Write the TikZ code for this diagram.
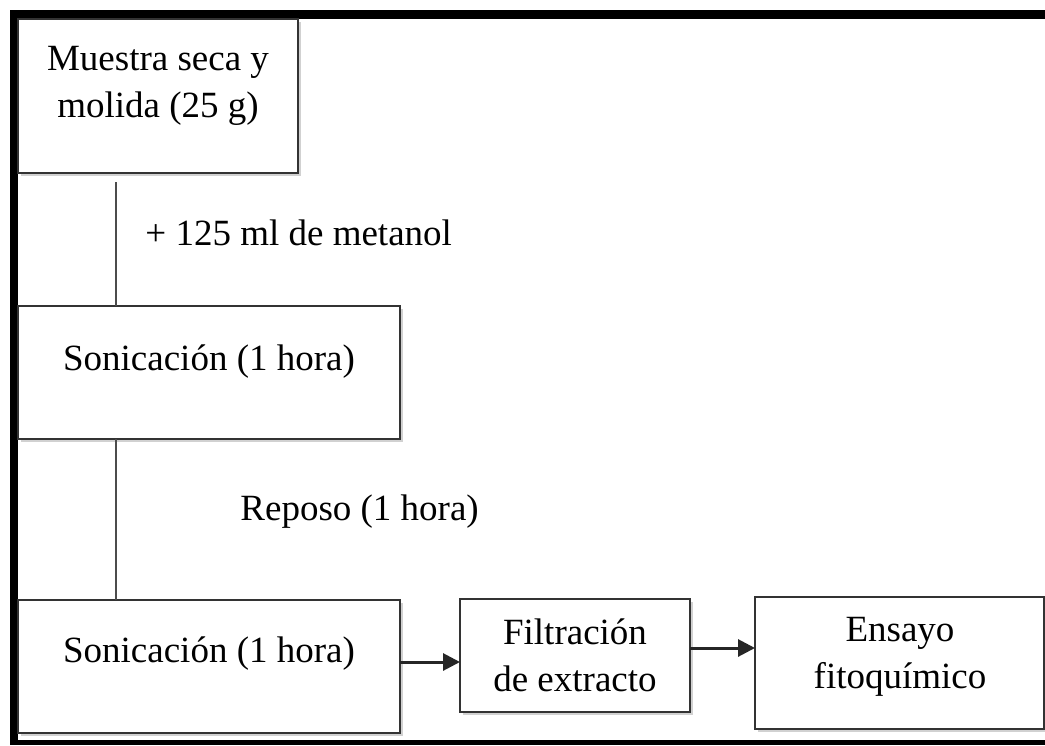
\documentclass[tikz,border=0pt]{standalone}
\usepackage{fontspec}
\setmainfont{Liberation Serif}
\usetikzlibrary{arrows.meta,shadows}
\begin{document}
\begin{tikzpicture}[x=0.5pt,y=-0.5pt,
  box/.style={draw=black!80,line width=1pt,fill=white,inner sep=0pt,outer sep=0pt,
    drop shadow={shadow xshift=1.5pt,shadow yshift=-1.5pt,fill=black,opacity=0.18}},
  txt/.style={font=\fontsize{18.5pt}{23.5pt}\selectfont,inner sep=0pt,align=center,text=black},
  conn/.style={draw=black!70,line width=1pt},
  arr/.style={draw=black!85,line width=1.5pt,-{Triangle[length=8.5pt,width=8.5pt]}}]
\useasboundingbox (0,0) rectangle (1045,745);
\fill[white] (0,0) rectangle (1045,745);
% frame bands
\fill[black] (10,10) rectangle (1045,19);
\fill[black] (10,10) rectangle (18,745);
\fill[black] (10,740) rectangle (1045,745);
% boxes
\node[box,minimum width=140pt,minimum height=77pt] (b1) at (158,96) {};
\node[box,minimum width=191pt,minimum height=66.5pt] (b2) at (209,372.5) {};
\node[box,minimum width=191pt,minimum height=66.5pt] (b3) at (209,666.5) {};
\node[box,minimum width=115pt,minimum height=56.5pt] (b4) at (575,655.5) {};
\node[box,minimum width=144.5pt,minimum height=66pt] (b5) at (899.5,663) {};
% texts
\node[txt,anchor=base] (t1) at (158,117) {Muestra seca y\\molida (25 g)};
\node[txt,anchor=base] (t2) at (209,370) {Sonicación (1 hora)};
\node[txt,anchor=base] (t3) at (209,662) {Sonicación (1 hora)};
\node[txt,anchor=base] (t4) at (575,691) {Filtración\\de extracto};
\node[txt,anchor=base] (t5) at (900,688) {Ensayo\\fitoquímico};
\node[txt,anchor=base west] (l1) at (145,245) {+ 125 ml de metanol};
\node[txt,anchor=base west] (l2) at (240,520) {Reposo (1 hora)};
% connectors
\coordinate (vx) at (116,0);
\draw[conn] ([yshift=-4.5pt]b1.south -| vx) -- (b2.north -| vx);
\draw[conn] (b2.south -| vx) -- (b3.north -| vx);
\draw[arr] ([yshift=2.25pt]b3.east) -- ([yshift=2.25pt]b3.east -| b4.west);
\draw[arr] ([yshift=3.75pt]b4.east) -- ([yshift=3.75pt]b4.east -| b5.west);
\end{tikzpicture}
\end{document}
